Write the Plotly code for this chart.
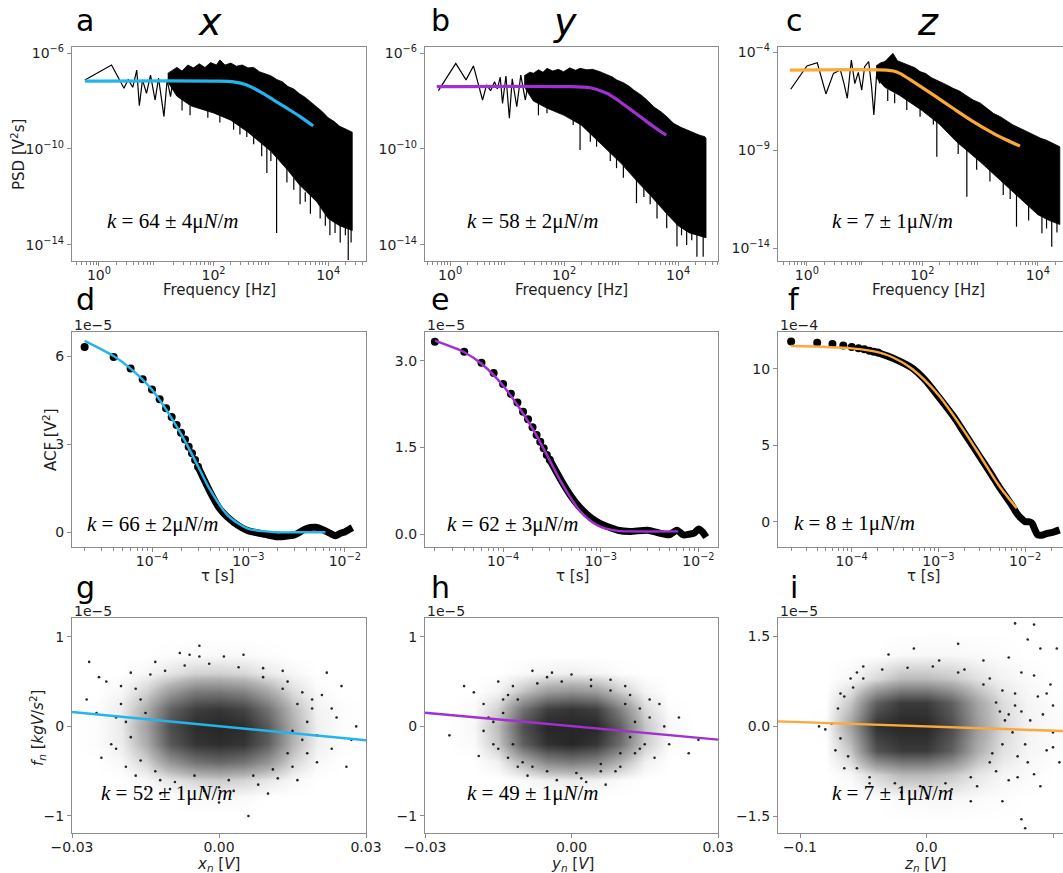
import numpy as np
import plotly.graph_objects as go

W, H = 1063, 873

# ======================= DATA =======================
# --- PSD (row 1): log10 frequency [Hz] and log10 PSD [V^2 s] ---
a_low_lf = [-0.245, 0.22, 0.437, 0.51, 0.59, 0.66, 0.705, 0.76, 0.83, 0.90, 0.98, 1.04, 1.135, 1.19, 1.25, 1.31, 1.36]
a_low_lp = [-7.125, -6.5, -7.47, -7.1, -7.43, -6.71, -8.2, -7.12, -7.68, -6.92, -7.96, -7.05, -8.65, -7.12, -7.82, -6.78, -6.64]
a_hi_lf = [1.2, 1.3, 1.36, 1.45, 1.55, 1.65, 1.75, 1.85, 1.95, 2.05, 2.11, 2.2, 2.3, 2.4, 2.5, 2.6, 2.7, 2.8, 2.9, 3.0,
           3.1, 3.2, 3.3, 3.4, 3.5, 3.6, 3.7, 3.8, 3.9, 4.0, 4.1, 4.2, 4.3, 4.38, 4.42]
a_hi_lp = [-6.85, -6.7, -6.6, -6.75, -6.5, -6.62, -6.45, -6.6, -6.4, -6.5, -6.29, -6.5, -6.42, -6.55, -6.5, -6.62, -6.6,
           -6.78, -6.85, -6.95, -7.1, -7.2, -7.4, -7.5, -7.7, -7.85, -8.05, -8.25, -8.45, -8.7, -8.85, -9.05, -9.15, -9.25, -9.3]
a_lo_lf = [1.2, 1.36, 1.6, 2.0, 2.3, 2.6, 3.0, 3.3, 3.5, 3.8, 4.0, 4.2, 4.42]
a_lo_lp = [-7.2, -7.8, -8.2, -8.5, -8.8, -9.3, -10.1, -10.9, -11.5, -12.2, -12.9, -13.2, -13.4]
a_spk_lf = [1.45, 1.59, 1.9, 2.11, 2.35, 2.46, 2.58, 2.7, 2.84, 2.93, 3.0, 3.10, 3.28, 3.4, 3.51, 3.60, 3.69, 3.86, 3.95,
            4.03, 4.12, 4.21, 4.30, 4.35, 4.40]
a_spk_top = [-7.9, -8.2, -8.3, -8.5, -8.8, -9.0, -9.1, -9.4, -9.7, -9.9, -10.1, -10.3, -10.8, -11.2, -11.5, -11.8, -11.9,
             -12.4, -12.7, -12.9, -13.0, -13.1, -13.2, -13.2, -13.3]
a_spk_bot = [-8.4, -8.6, -8.7, -8.9, -9.2, -9.4, -9.5, -9.8, -10.3, -11.0, -10.5, -13.5, -11.4, -11.7, -12.3, -12.2, -12.7,
             -12.9, -13.2, -13.6, -13.5, -13.9, -13.6, -14.63, -13.9]
a_fit_lf = [-0.245, 2.0, 2.35, 2.58, 2.81, 3.05, 3.28, 3.51, 3.74]
a_fit_lp = [-7.17, -7.17, -7.2, -7.33, -7.61, -7.96, -8.30, -8.65, -9.04]

b_low_lf = [-0.205, 0.1, 0.28, 0.41, 0.57, 0.64, 0.71, 0.78, 0.83, 0.88, 0.92, 0.98, 1.04, 1.09, 1.17, 1.24, 1.32, 1.40, 1.46]
b_low_lp = [-7.57, -6.43, -7.12, -6.54, -7.96, -7.33, -7.57, -7.2, -7.5, -7.01, -8.1, -6.96, -8.72, -7.08, -8.24, -6.92, -7.96, -6.85, -6.85]
b_hi_lf = [1.3, 1.4, 1.46, 1.55, 1.63, 1.70, 1.8, 1.9, 1.99, 2.1, 2.2, 2.28, 2.4, 2.5, 2.63, 2.75, 2.85, 2.92, 3.05, 3.15,
           3.22, 3.35, 3.45, 3.57, 3.7, 3.8, 3.92, 4.05, 4.15, 4.27, 4.37, 4.47, 4.49]
b_hi_lp = [-6.95, -6.8, -6.85, -6.7, -6.8, -6.64, -6.75, -6.68, -6.78, -6.62, -6.72, -6.64, -6.7, -6.68, -6.78, -6.9,
           -7.0, -7.12, -7.25, -7.4, -7.54, -7.75, -7.95, -8.24, -8.45, -8.65, -8.93, -9.1, -9.2, -9.35, -9.42, -9.49, -9.55]
b_lo_lf = [1.3, 1.46, 1.7, 2.0, 2.3, 2.6, 3.0, 3.3, 3.5, 3.8, 4.0, 4.2, 4.49]
b_lo_lp = [-7.4, -8.0, -8.3, -8.6, -9.0, -9.7, -10.6, -11.4, -11.9, -12.7, -13.2, -13.5, -13.7]
b_spk_lf = [1.55, 1.70, 2.16, 2.28, 2.46, 2.57, 2.81, 2.92, 3.04, 3.27, 3.4, 3.51, 3.63, 3.80, 3.98, 4.06, 4.15, 4.24, 4.33, 4.44]
b_spk_top = [-8.1, -8.3, -8.7, -8.9, -9.3, -9.5, -10.0, -10.3, -10.7, -11.3, -11.6, -11.9, -12.2, -12.6, -13.0, -13.2,
             -13.3, -13.4, -13.5, -13.6]
b_spk_bot = [-8.6, -8.51, -9.0, -10.04, -9.7, -9.9, -10.5, -10.8, -11.2, -12.26, -12.0, -12.3, -12.9, -13.3, -14.07,
             -13.6, -14.0, -13.8, -14.49, -14.49]
b_fit_lf = [-0.233, 2.0, 2.46, 2.75, 2.98, 3.22, 3.45, 3.68, 3.79]
b_fit_lp = [-7.40, -7.40, -7.45, -7.68, -8.03, -8.45, -8.86, -9.25, -9.42]

c_low_lf = [-0.28, 0.0, 0.18, 0.33, 0.46, 0.58, 0.64, 0.70, 0.77, 0.83, 0.89, 0.95, 1.0, 1.07, 1.12, 1.16, 1.21, 1.26, 1.32, 1.35]
c_low_lp = [-5.9, -4.71, -4.55, -6.14, -5.09, -4.92, -5.57, -6.36, -4.41, -5.61, -5.04, -5.94, -4.75, -4.49, -5.77, -7.21, -5.04, -5.6, -4.66, -4.49]
c_hi_lf = [1.2, 1.28, 1.35, 1.42, 1.49, 1.57, 1.67, 1.77, 1.87, 1.96, 2.06, 2.15, 2.25, 2.35, 2.45, 2.53, 2.65, 2.75,
           2.88, 3.0, 3.1, 3.23, 3.35, 3.45, 3.57, 3.7, 3.8, 3.92, 4.05, 4.15, 4.27, 4.38]
c_hi_lp = [-4.7, -4.55, -4.49, -4.3, -4.07, -4.45, -4.58, -4.7, -4.8, -5.0, -5.1, -5.3, -5.43, -5.55, -5.72, -5.85,
           -6.0, -6.2, -6.45, -6.6, -6.85, -7.13, -7.3, -7.5, -7.72, -7.9, -8.05, -8.23, -8.4, -8.5, -8.66, -8.83]
c_lo_lf = [1.2, 1.35, 1.6, 2.0, 2.3, 2.6, 3.0, 3.3, 3.6, 4.0, 4.2, 4.38]
c_lo_lp = [-5.3, -5.8, -6.2, -7.0, -7.7, -8.6, -9.6, -10.4, -11.2, -12.3, -12.6, -12.8]
c_spk_lf = [1.4, 1.52, 1.73, 1.96, 2.19, 2.25, 2.62, 2.77, 2.94, 3.17, 3.40, 3.52, 3.63, 3.84, 4.07, 4.15, 4.24, 4.33]
c_spk_top = [-5.9, -6.1, -6.4, -6.9, -7.4, -7.5, -8.6, -9.0, -9.4, -10.0, -10.6, -10.9, -11.2, -11.8, -12.4, -12.5, -12.6, -12.7]
c_spk_bot = [-6.5, -6.62, -6.96, -7.3, -7.7, -9.34, -9.2, -11.38, -10.0, -10.6, -11.3, -11.5, -12.91, -12.6, -13.25,
             -13.0, -13.93, -13.2]
c_fit_lf = [-0.294, 1.38, 1.5, 1.61, 1.84, 2.19, 2.53, 2.88, 3.23, 3.46, 3.69]
c_fit_lp = [-4.92, -4.92, -4.97, -5.09, -5.51, -6.19, -6.87, -7.55, -8.15, -8.49, -8.80]

# --- ACF (row 2): lag tau [s] and ACF in units of the offset (1e-5 or 1e-4 V^2) ---
d_dot_tau = [2e-5, 4e-5, 6e-5, 8e-5, 1e-4, 1.2e-4, 1.4e-4, 1.6e-4, 1.8e-4, 2e-4, 2.2e-4, 2.4e-4, 2.6e-4, 2.8e-4, 3e-4]
d_dot_val = [6.31, 5.97, 5.58, 5.21, 4.86, 4.53, 4.22, 3.93, 3.65, 3.39, 3.16, 2.91, 2.69, 2.46, 2.23]
d_band_tau = [3e-4, 4e-4, 5e-4, 6e-4, 8e-4, 1e-3, 1.5e-3, 2e-3, 3e-3, 4e-3, 5e-3, 6e-3, 7e-3, 8e-3, 9e-3, 1e-2, 1.1e-2, 1.2e-2]
d_band_val = [2.23, 1.38, 0.82, 0.53, 0.21, 0.05, -0.07, -0.15, -0.09, 0.13, 0.17, 0.08, -0.03, -0.12, -0.03, 0.01, 0.09, 0.16]
d_fit_tau = [2e-5, 4e-5, 6e-5, 1e-4, 2e-4, 3e-4, 4e-4, 6e-4, 8e-4, 1e-3, 1.5e-3, 2e-3, 3e-3, 6.3e-3]
d_fit_val = [6.52, 6.0, 5.57, 4.85, 3.35, 2.25, 1.45, 0.6, 0.28, 0.12, 0.03, 0.0, 0.0, 0.0]

e_dot_tau = [2e-5, 4e-5, 6e-5, 8e-5, 1e-4, 1.2e-4, 1.4e-4, 1.6e-4, 1.8e-4, 2e-4, 2.2e-4, 2.4e-4, 2.6e-4, 2.8e-4, 3e-4]
e_dot_val = [3.33, 3.16, 2.97, 2.79, 2.60, 2.43, 2.28, 2.12, 1.99, 1.85, 1.72, 1.60, 1.49, 1.37, 1.29]
e_band_tau = [3e-4, 4e-4, 5e-4, 6e-4, 8e-4, 1e-3, 1.5e-3, 2e-3, 3e-3, 4e-3, 5e-3, 6e-3, 7e-3, 8e-3, 9e-3, 1e-2, 1.1e-2, 1.2e-2]
e_band_val = [1.29, 0.91, 0.65, 0.48, 0.28, 0.18, 0.07, 0.05, 0.07, 0.02, -0.01, 0.07, -0.01, 0.0, 0.02, 0.09, 0.04, -0.05]
e_fit_tau = [2e-5, 4e-5, 6e-5, 1e-4, 2e-4, 3e-4, 4e-4, 6e-4, 8e-4, 1e-3, 1.5e-3, 2e-3, 6.2e-3]
e_fit_val = [3.35, 3.15, 2.95, 2.57, 1.83, 1.28, 0.88, 0.42, 0.22, 0.13, 0.06, 0.05, 0.05]

f_dot_tau = [2e-5, 4e-5, 6e-5, 8e-5, 1e-4, 1.2e-4, 1.4e-4, 1.6e-4, 1.8e-4, 2e-4]
f_dot_val = [11.79, 11.72, 11.64, 11.53, 11.44, 11.35, 11.29, 11.2, 11.13, 11.07]
f_band_tau = [2e-4, 3e-4, 5e-4, 7e-4, 1e-3, 1.5e-3, 2e-3, 3e-3, 4e-3, 5e-3, 6e-3, 7e-3, 8e-3, 9e-3, 1e-2, 1.1e-2, 1.2e-2,
              1.3e-2, 1.4e-2, 1.6e-2, 1.8e-2, 2e-2, 2.2e-2, 2.5e-2]
f_band_val = [11.07, 10.7, 10.05, 9.28, 8.19, 6.88, 5.79, 4.26, 3.17, 2.29, 1.64, 1.09, 0.55, 0.22, 0.0, 0.0, -0.1,
              -0.54, -0.87, -0.87, -0.76, -0.72, -0.65, -0.54]
f_fit_tau = [2e-5, 1e-4, 2e-4, 3e-4, 5e-4, 1e-3, 2e-3, 3e-3, 5e-3, 8e-3]
f_fit_val = [11.5, 11.35, 11.1, 10.75, 10.0, 8.3, 5.9, 4.35, 2.35, 0.88]

# --- force vs position (row 3): sparse points and density of the dense core (units 1e-5) ---
g_pts_x = [-0.0265, -0.0245, -0.027, -0.024, -0.022, -0.02, -0.021, -0.019, -0.018, -0.017, -0.016, -0.015, -0.013,
           -0.012, -0.008, -0.006, -0.004, 0.001, 0.005, 0.008, 0.009, 0.012, 0.014, 0.015, 0.017, 0.018, 0.019, 0.02,
           0.021, 0.023, 0.024, 0.025, 0.026, 0.027, 0.028, 0.003, 0.0, -0.003, 0.016, 0.01, -0.01, 0.006, -0.023, 0.022,
           -0.019, -0.018, -0.017, -0.016, -0.014, -0.013, -0.011, -0.009, -0.007, -0.005, -0.002, 0.002, 0.004, 0.007,
           0.009, 0.011, 0.013, 0.014, 0.016, 0.017, 0.018, 0.019, -0.021, -0.02, 0.013, -0.012, 0.0, -0.004, 0.02,
           -0.025, 0.023, -0.015, 0.015]
g_pts_y = [0.72, 0.55, 0.3, -0.35, -0.2, 0.45, 0.1, -0.45, 0.6, -0.55, 0.3, -0.7, 0.72, -0.6, 0.82, 0.8, 0.78, 0.78, 0.8,
           -0.65, 0.65, -0.58, 0.5, -0.45, 0.38, -0.3, 0.2, -0.1, 0.35, -0.25, 0.1, 0.45, -0.45, -0.15, 0.0, -0.72, -0.68,
           -0.72, -0.6, -0.75, -0.7, -1.0, 0.5, 0.6,
           0.05, -0.12, 0.42, -0.38, 0.58, -0.5, 0.62, -0.62, 0.68, -0.55, 0.7, -0.6, 0.66, -0.55, 0.55, -0.48, 0.42,
           -0.3, 0.25, -0.15, 0.05, 0.3, -0.25, 0.25, 0.62, -0.75, -0.85, 0.9, -0.4, 0.15, 0.2, 0.15, -0.05]
g_grid_x = [-0.03, -0.025, -0.02, -0.015, -0.01, -0.005, 0.0, 0.005, 0.01, 0.015, 0.02, 0.025, 0.03]
g_grid_y = [-1.0, -0.8, -0.6, -0.4, -0.2, 0.0, 0.2, 0.4, 0.6, 0.8, 1.0]
g_density = [
    [0, 0, 0, 0, 0, 0, 0, 0, 0, 0, 0, 0, 0],
    [0, 0, 0, 0, 0, .02, .03, .02, 0, 0, 0, 0, 0],
    [0, 0, 0, .03, .1, .17, .2, .17, .1, .03, 0, 0, 0],
    [0, 0, .03, .17, .45, .62, .68, .62, .45, .17, .03, 0, 0],
    [0, .01, .07, .33, .75, .93, .97, .93, .72, .3, .06, .01, 0],
    [0, .01, .08, .38, .8, .97, 1, .97, .75, .32, .06, .01, 0],
    [0, .01, .07, .32, .7, .88, .92, .85, .62, .27, .05, .01, 0],
    [0, 0, .03, .17, .4, .57, .58, .52, .35, .13, .02, 0, 0],
    [0, 0, 0, .03, .1, .17, .18, .15, .08, .03, 0, 0, 0],
    [0, 0, 0, 0, .01, .02, .02, .02, .01, 0, 0, 0, 0],
    [0, 0, 0, 0, 0, 0, 0, 0, 0, 0, 0, 0, 0],
]
g_fit_x = [-0.03, 0.03]
g_fit_y = [0.16, -0.155]

h_pts_x = [-0.025, -0.022, -0.02, -0.019, -0.018, -0.017, -0.016, -0.015, -0.014, -0.013, -0.012, -0.008, -0.005,
           -0.003, 0.0, 0.002, 0.004, 0.006, 0.008, 0.01, 0.012, 0.013, 0.014, 0.015, 0.016, 0.017, 0.018, 0.019, 0.02,
           0.022, 0.024, 0.026, 0.007, -0.009, 0.011, -0.011,
           -0.016, -0.015, -0.013, -0.012, -0.011, -0.01, -0.007, -0.005, -0.002, 0.001, 0.004, 0.006, 0.008, 0.01,
           0.011, 0.012, 0.013, -0.014, 0.009, -0.008, 0.014, -0.018, 0.016, -0.004, 0.003]
h_pts_y = [-0.1, 0.45, 0.38, -0.33, 0.25, 0.1, -0.2, 0.5, 0.3, -0.35, 0.45, 0.62, 0.55, -0.6, 0.58, -0.58, 0.52, -0.5,
           0.52, -0.45, 0.35, -0.3, 0.2, -0.2, 0.1, -0.35, 0.25, 0.0, -0.2, 0.1, -0.3, -0.15, -0.65, -0.55, 0.45, -0.45,
           0.05, -0.25, 0.35, -0.2, 0.3, -0.4, 0.48, -0.5, 0.5, -0.52, 0.45, -0.42, 0.4, -0.3, 0.25, -0.12, 0.05, 0.15,
           -0.5, -0.45, -0.25, -0.05, 0.3, 0.6, -0.62]
h_grid_x = g_grid_x
h_grid_y = g_grid_y
h_density = [
    [0, 0, 0, 0, 0, 0, 0, 0, 0, 0, 0, 0, 0],
    [0, 0, 0, 0, 0, 0, 0, 0, 0, 0, 0, 0, 0],
    [0, 0, 0, 0, .02, .06, .08, .06, .02, 0, 0, 0, 0],
    [0, 0, 0, .06, .3, .52, .58, .52, .3, .06, 0, 0, 0],
    [0, 0, .02, .22, .72, .95, 1, .93, .65, .2, .02, 0, 0],
    [0, 0, .03, .27, .8, 1, 1, 1, .72, .23, .03, 0, 0],
    [0, 0, .02, .18, .62, .88, .93, .88, .55, .15, .01, 0, 0],
    [0, 0, 0, .04, .23, .4, .45, .4, .2, .04, 0, 0, 0],
    [0, 0, 0, 0, .02, .05, .06, .04, .01, 0, 0, 0, 0],
    [0, 0, 0, 0, 0, 0, 0, 0, 0, 0, 0, 0, 0],
    [0, 0, 0, 0, 0, 0, 0, 0, 0, 0, 0, 0, 0],
]
h_fit_x = [-0.03, 0.03]
h_fit_y = [0.153, -0.148]

i_pts_x = [-0.085, -0.08, -0.075, -0.072, -0.068, -0.065, -0.06, -0.05, -0.045, -0.03, -0.02, -0.01, 0.0, 0.01, 0.02,
           0.025, 0.03, 0.04, 0.045, 0.05, 0.055, 0.06, 0.065, 0.07, 0.072, 0.075, 0.078, 0.08, 0.082, 0.085, 0.088,
           0.09, 0.092, 0.095, 0.098, 0.1, 0.103, 0.105, 0.085, 0.075, 0.078, 0.07, 0.065, 0.09, 0.1, 0.06, 0.035, -0.055,
           -0.07, -0.068, -0.065, -0.062, -0.058, -0.055, -0.05, -0.045, -0.035, -0.025, -0.015, -0.005, 0.005, 0.015,
           0.025, 0.035, 0.045, 0.05, 0.055, 0.06, 0.062, 0.058, 0.052, 0.065, 0.068, 0.07, 0.075, 0.08, 0.085, 0.072,
           0.095, 0.1]
i_pts_y = [0.0, -0.05, 0.05, -0.4, 0.55, -0.7, 0.8, 1.0, -0.95, 1.2, -1.1, 1.3, -1.2, 1.1, -1.05, 1.38, 0.95, -1.0, 1.1,
           0.8, -0.75, 0.6, -0.9, 0.35, -0.5, 0.9, -0.3, 1.45, 0.1, -0.8, 0.5, -1.0, 0.2, -0.4, 0.7, -0.1, 1.3, -0.6, 1.7,
           -1.55, -1.7, 1.72, 1.15, 1.3, 0.35, -1.25, -1.25, 0.9,
           0.3, -0.2, 0.5, -0.5, 0.65, -0.7, 0.8, -0.85, 0.95, -0.95, 0.98, -1.0, 1.0, -0.95, 0.9, -0.85, 0.7, -0.6,
           0.4, -0.3, 0.1, 0.25, -0.45, 0.2, -0.1, 0.55, 0.25, -0.6, 0.85, -0.85, 0.55, -0.35]
i_grid_x = [-0.1, -0.08, -0.06, -0.04, -0.02, 0.0, 0.02, 0.04, 0.06, 0.08, 0.1]
i_grid_y = [-1.6, -1.2, -0.8, -0.4, 0.0, 0.4, 0.8, 1.2, 1.6]
i_density = [
    [0, 0, 0, 0, 0, 0, 0, 0, 0, 0, 0],
    [0, 0, 0, 0, .02, .03, .03, .02, .01, 0, 0],
    [0, 0, .03, .17, .28, .28, .22, .1, .04, .02, 0],
    [0, 0, .22, .78, .9, .9, .72, .33, .12, .04, .01],
    [0, .01, .38, .95, 1, 1, .82, .42, .16, .05, .02],
    [0, 0, .22, .72, .9, .9, .72, .37, .14, .04, .01],
    [0, 0, .03, .15, .27, .27, .22, .12, .05, .02, 0],
    [0, 0, 0, 0, .02, .03, .03, .02, .01, 0, 0],
    [0, 0, 0, 0, 0, 0, 0, 0, 0, 0, 0],
]
i_fit_x = [-0.1174, 0.1079]
i_fit_y = [0.084, -0.078]

# --- text ---
panel_letters = ["a", "b", "c", "d", "e", "f", "g", "h", "i"]
column_titles = ["x", "y", "z"]
k_values = ["64", "58", "7", "66", "62", "8", "52", "49", "7"]
k_errors = ["4", "2", "1", "2", "3", "1", "1", "1", "1"]
offset_labels = ["1e−5", "1e−5", "1e−4", "1e−5", "1e−5", "1e−5"]

CYAN = "#22b5ec"
PURPLE = "#a22fd0"
ORANGE = "#fba93a"
colors = [CYAN, PURPLE, ORANGE]

# ======================= LAYOUT HELPERS =======================
col_px = [(72, 366), (425, 718), (778, 1063)]
row_px = [(47, 261), (332, 547), (618, 833)]
AX_COL = "#8c8c8c"
TICK_FONT = dict(family="DejaVu Sans", size=14, color="#1e1e1e")


def p10(v):
    return np.power(10.0, np.asarray(v, dtype=float))


fig = go.Figure()
layout = dict(width=W, height=H, margin=dict(l=0, r=0, t=0, b=0, autoexpand=False),
              paper_bgcolor="white", plot_bgcolor="white", showlegend=False)
annotations = []


def ann(text, px, py, size, family="DejaVu Sans", xanchor="center", yanchor="middle", angle=0, color="black"):
    annotations.append(dict(text=text, x=px / W, y=1 - py / H, xref="paper", yref="paper",
                            showarrow=False, font=dict(size=size, family=family, color=color),
                            xanchor=xanchor, yanchor=yanchor, textangle=angle))


def sup(e):
    return "10<sup>" + str(e).replace("-", "−") + "</sup>"


def minor_log(lo, hi):
    return [m * 10.0 ** e for e in range(lo, hi) for m in range(2, 10)]


def set_axes(idx, row, col, xcfg, ycfg):
    x0, x1 = col_px[col]
    y0, y1 = row_px[row]
    base = dict(showline=True, linecolor=AX_COL, linewidth=1.3, ticks="outside", ticklen=4,
                tickcolor=AX_COL, tickwidth=1.1, showgrid=False, zeroline=False, tickfont=TICK_FONT,
                automargin=False)
    xa = dict(base, domain=[x0 / W, x1 / W], anchor="y%d" % idx, mirror=True, ticklabelstandoff=-3, **xcfg)
    ya = dict(base, domain=[1 - y1 / H, 1 - y0 / H], anchor="x%d" % idx, mirror=(col != 2), **ycfg)
    layout["xaxis%d" % idx if idx > 1 else "xaxis"] = xa
    layout["yaxis%d" % idx if idx > 1 else "yaxis"] = ya


# ======================= ROW 1: PSD =======================
psd = [
    (a_low_lf, a_low_lp, a_hi_lf, a_hi_lp, a_lo_lf, a_lo_lp, a_spk_lf, a_spk_top, a_spk_bot, a_fit_lf, a_fit_lp),
    (b_low_lf, b_low_lp, b_hi_lf, b_hi_lp, b_lo_lf, b_lo_lp, b_spk_lf, b_spk_top, b_spk_bot, b_fit_lf, b_fit_lp),
    (c_low_lf, c_low_lp, c_hi_lf, c_hi_lp, c_lo_lf, c_lo_lp, c_spk_lf, c_spk_top, c_spk_bot, c_fit_lf, c_fit_lp),
]
psd_xrange = [[-0.47, 4.66], [-0.44, 4.70], [-0.5, 4.435]]
psd_yrange = [[-14.67, -5.75], [-14.67, -5.75], [-14.66, -3.745]]
psd_yticks = [[-6, -10, -14], [-6, -10, -14], [-4, -9, -14]]

for c, (lowf, lowp, hif, hip, lof, lop, sf, st, sb, ff, fp) in enumerate(psd):
    idx = c + 1
    xr, yr = "x%d" % idx, "y%d" % idx
    poly_x = p10(list(hif) + list(lof[::-1]))
    poly_y = p10(list(hip) + list(lop[::-1]))
    fig.add_trace(go.Scatter(x=poly_x, y=poly_y, mode="lines", fill="toself", fillcolor="black",
                             line=dict(color="black", width=0.8), xaxis=xr, yaxis=yr, hoverinfo="skip"))
    fig.add_trace(go.Scatter(x=p10(lowf), y=p10(lowp), mode="lines", line=dict(color="black", width=1.2),
                             xaxis=xr, yaxis=yr, hoverinfo="skip"))
    sx, sy = [], []
    for f_, t_, b_ in zip(sf, st, sb):
        sx += [10 ** f_, 10 ** f_, None]
        sy += [10 ** t_, 10 ** b_, None]
    fig.add_trace(go.Scatter(x=sx, y=sy, mode="lines", line=dict(color="black", width=1.2),
                             xaxis=xr, yaxis=yr, hoverinfo="skip", connectgaps=False))
    fig.add_trace(go.Scatter(x=p10(ff), y=p10(fp), mode="lines",
                             line=dict(color=colors[c], width=3.2, shape="spline", smoothing=0.8),
                             xaxis=xr, yaxis=yr))
    set_axes(idx, 0, c,
             dict(type="log", range=psd_xrange[c], tickvals=[1, 100, 1e4],
                  ticktext=[sup(0), sup(2), sup(4)],
                  minor=dict(ticks="outside", ticklen=2.5, tickcolor=AX_COL, tickvals=minor_log(-1, 5))),
             dict(type="log", range=psd_yrange[c], tickvals=[10.0 ** e for e in psd_yticks[c]],
                  ticktext=[sup(e) for e in psd_yticks[c]]))

# ======================= ROW 2: ACF =======================
acf = [
    (d_dot_tau, d_dot_val, d_band_tau, d_band_val, d_fit_tau, d_fit_val),
    (e_dot_tau, e_dot_val, e_band_tau, e_band_val, e_fit_tau, e_fit_val),
    (f_dot_tau, f_dot_val, f_band_tau, f_band_val, f_fit_tau, f_fit_val),
]
acf_xrange = [[-4.83, -1.78], [-4.8, -1.8], [-4.85, -1.563]]
acf_yrange = [[-0.5, 6.82], [-0.22, 3.5], [-1.66, 12.42]]
acf_yticks = [([0, 3, 6], ["0", "3", "6"]), ([0, 1.5, 3.0], ["0.0", "1.5", "3.0"]), ([0, 5, 10], ["0", "5", "10"])]

for c, (dt, dv, bt, bv, ft, fv) in enumerate(acf):
    idx = c + 4
    xr, yr = "x%d" % idx, "y%d" % idx
    fig.add_trace(go.Scatter(x=bt, y=bv, mode="lines", line=dict(color="black", width=7, shape="spline", smoothing=0.6),
                             xaxis=xr, yaxis=yr, hoverinfo="skip"))
    fig.add_trace(go.Scatter(x=dt, y=dv, mode="markers", marker=dict(color="black", size=8),
                             xaxis=xr, yaxis=yr))
    fig.add_trace(go.Scatter(x=ft, y=fv, mode="lines",
                             line=dict(color=colors[c], width=2.4, shape="spline", smoothing=0.8),
                             xaxis=xr, yaxis=yr))
    set_axes(idx, 1, c,
             dict(type="log", range=acf_xrange[c], tickvals=[1e-4, 1e-3, 1e-2],
                  ticktext=[sup(-4), sup(-3), sup(-2)],
                  minor=dict(ticks="outside", ticklen=2.5, tickcolor=AX_COL, tickvals=minor_log(-5, -1))),
             dict(range=acf_yrange[c], tickvals=acf_yticks[c][0], ticktext=acf_yticks[c][1]))

# ======================= ROW 3: force vs position =======================
scat = [
    (g_pts_x, g_pts_y, g_grid_x, g_grid_y, g_density, g_fit_x, g_fit_y),
    (h_pts_x, h_pts_y, h_grid_x, h_grid_y, h_density, h_fit_x, h_fit_y),
    (i_pts_x, i_pts_y, i_grid_x, i_grid_y, i_density, i_fit_x, i_fit_y),
]
sc_xrange = [[-0.03, 0.03], [-0.03, 0.03], [-0.1174, 0.1079]]
sc_yrange = [[-1.19, 1.21], [-1.19, 1.21], [-1.78, 1.81]]
sc_xticks = [([-0.03, 0, 0.03], ["−0.03", "0.00", "0.03"]), ([-0.03, 0, 0.03], ["−0.03", "0.00", "0.03"]),
             ([-0.1, 0, 0.1], ["−0.1", "0.0", "0.1"])]
sc_yticks = [([-1, 0, 1], ["−1", "0", "1"]), ([-1, 0, 1], ["−1", "0", "1"]),
             ([-1.5, 0, 1.5], ["−1.5", "0.0", "1.5"])]

for c, (px_, py_, gx, gy, dens, fx, fy) in enumerate(scat):
    idx = c + 7
    xr, yr = "x%d" % idx, "y%d" % idx
    n = min(len(px_), len(py_))
    fig.add_trace(go.Heatmap(x=gx, y=gy, z=dens, zmin=0, zmax=1, zsmooth="best", showscale=False,
                             colorscale=[[0, "rgba(0,0,0,0)"], [0.3, "rgba(0,0,0,0.3)"], [1, "rgba(0,0,0,0.85)"]],
                             xaxis=xr, yaxis=yr, hoverinfo="skip"))
    fig.add_trace(go.Scatter(x=px_[:n], y=py_[:n], mode="markers", marker=dict(color="black", size=2.6, opacity=0.85),
                             xaxis=xr, yaxis=yr))
    fig.add_trace(go.Scatter(x=fx, y=fy, mode="lines", line=dict(color=colors[c], width=2.4),
                             xaxis=xr, yaxis=yr))
    set_axes(idx, 2, c,
             dict(range=sc_xrange[c], tickvals=sc_xticks[c][0], ticktext=sc_xticks[c][1]),
             dict(range=sc_yrange[c], tickvals=sc_yticks[c][0], ticktext=sc_yticks[c][1]))

# ======================= TEXT =======================
letter_x = [85, 440, 794]
letter_y = [20, 299, 587]
for r in range(3):
    for c in range(3):
        ann(panel_letters[r * 3 + c], letter_x[c], letter_y[r], 30)

title_x = [210, 565, 928]
for c in range(3):
    ann("<i>" + column_titles[c] + "</i>", title_x[c], 22, 38)

k_pos = [(173, 221), (533, 221), (892, 221), (153, 524), (513, 524), (854, 523), (167, 793), (533, 793), (892, 793)]
for n, (kx, ky) in enumerate(k_pos):
    ann("<i>k</i> = " + k_values[n] + " ± " + k_errors[n] + "μ<i>N</i>/<i>m</i>", kx, ky, 21, family="Liberation Serif")

off_px = [(72, 325), (425, 325), (778, 325), (72, 611), (425, 611), (778, 611)]
for n, (ox, oy) in enumerate(off_px):
    ann(offset_labels[n], ox, oy, 14, xanchor="left", color="#1e1e1e")

for cx in [219, 571, 928]:
    ann("Frequency [Hz]", cx, 290, 15, color="#1e1e1e")
for cx in [217, 572, 923]:
    ann("τ [s]", cx, 576, 15, color="#1e1e1e")
for cx, nm in zip([218, 572, 925], ["x", "y", "z"]):
    ann("<i>" + nm + "<sub>n</sub></i> [<i>V</i>]", cx, 864, 15, color="#1e1e1e")

ann("PSD [V<sup>2</sup>s]", 18, 155, 15, angle=-90, color="#1e1e1e")
ann("ACF [V<sup>2</sup>]", 50, 440, 15, angle=-90, color="#1e1e1e")
ann("<i>f<sub>n</sub></i> [<i>kgV</i>/<i>s</i><sup>2</sup>]", 37, 728, 15, angle=-90, color="#1e1e1e")

layout["annotations"] = annotations
fig.update_layout(**layout)
fig.write_html("out.html", config={"displayModeBar": False},
               post_script="document.body.style.margin='0';document.body.style.overflow='hidden';")
